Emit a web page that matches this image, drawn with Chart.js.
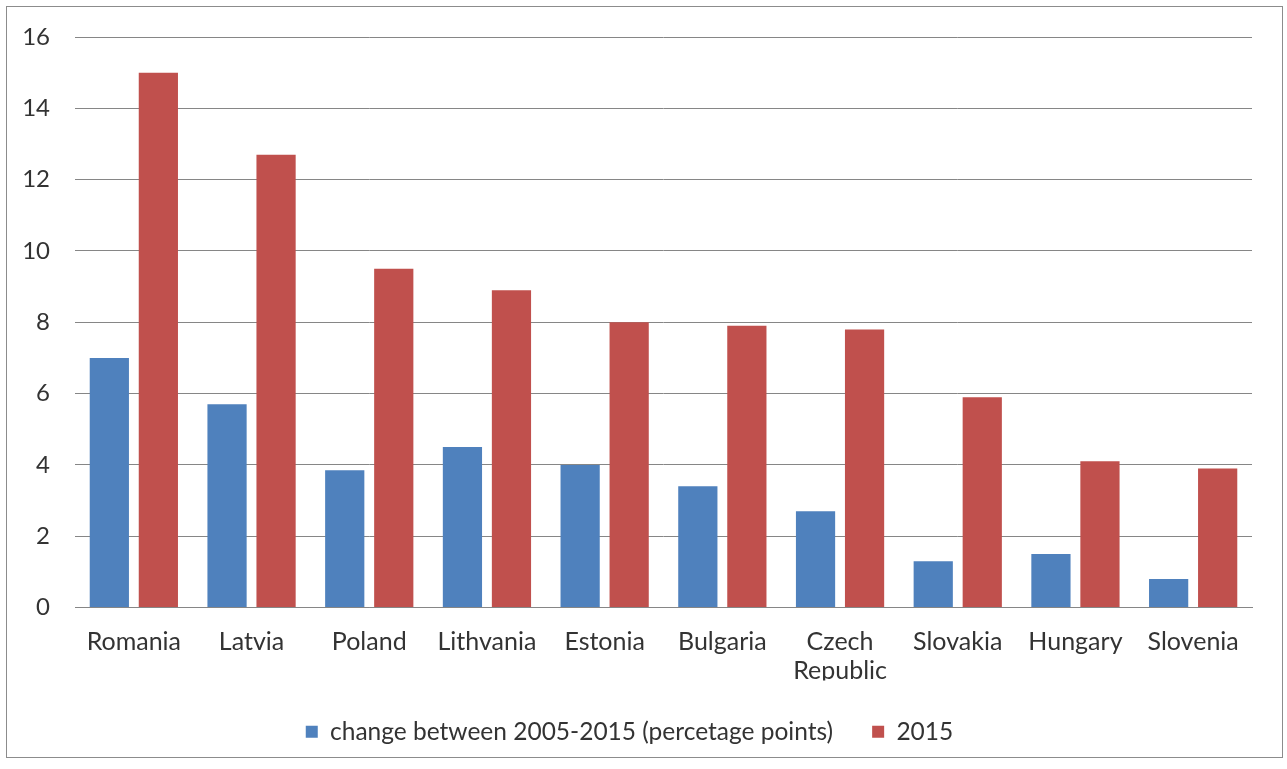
<!DOCTYPE html>
<html>
<head>
<meta charset="utf-8">
<script src="https://cdn.jsdelivr.net/npm/chart.js@4.4.0/dist/chart.umd.min.js"></script>
<style>
  html, body { margin: 0; padding: 0; background: #fff; }
  #frame {
    position: absolute; left: 6px; top: 6px;
    width: 1275px; height: 750px;
    border: 1px solid #8c8c8c;
  }
</style>
</head>
<body>
<div id="frame"><canvas id="chart" width="1275" height="750"></canvas></div>
<script>
  // data
  const countries = ['Romania', 'Latvia', 'Poland', 'Lithvania', 'Estonia', 'Bulgaria', ['Czech', 'Republic'], 'Slovakia', 'Hungary', 'Slovenia'];
  const change2005to2015 = [7.0, 5.7, 3.85, 4.5, 4.0, 3.4, 2.7, 1.3, 1.5, 0.8];
  const value2015 = [15.0, 12.7, 9.5, 8.9, 8.0, 7.9, 7.8, 5.9, 4.1, 3.9];
  const seriesNames = ['change between 2005-2015 (percetage points)', '2015'];
  const yTicks = { min: 0, max: 16, step: 2 };

  const FONT = "Lato, 'Open Sans', sans-serif";
  const TEXT = '#333333';
  const GRID = '#868686';

  new Chart(document.getElementById('chart'), {
    type: 'bar',
    data: {
      labels: countries,
      datasets: [
        { label: seriesNames[0], data: change2005to2015, backgroundColor: '#4F81BD', borderWidth: 0 },
        { label: seriesNames[1], data: value2015, backgroundColor: '#C0504D', borderWidth: 0 }
      ]
    },
    options: {
      responsive: false,
      animation: false,
      categoryPercentage: 0.833,
      barPercentage: 0.8,
      layout: { padding: { left: 0, right: 30, top: 30, bottom: 3 } },
      plugins: {
        legend: {
          position: 'bottom',
          labels: {
            boxWidth: 12, boxHeight: 12, padding: 39,
            color: TEXT, font: { family: FONT, size: 24.5 }
          }
        },
        tooltip: { enabled: false }
      },
      scales: {
        x: {
          grid: { display: false },
          border: { display: true, color: GRID, width: 1 },
          ticks: { color: TEXT, padding: 12, maxRotation: 0, font: { family: FONT, size: 25, lineHeight: 1.16 } },
          afterFit: s => { s.height -= 17; }
        },
        y: {
          min: yTicks.min, max: yTicks.max,
          grid: { color: GRID, lineWidth: 1, drawTicks: false },
          border: { display: false },
          ticks: { stepSize: yTicks.step, color: TEXT, padding: 25, font: { family: FONT, size: 24 } },
          afterFit: s => { s.width = 68; s.paddingTop = 0; s.paddingBottom = 0; }
        }
      }
    }
  });
</script>
</body>
</html>
